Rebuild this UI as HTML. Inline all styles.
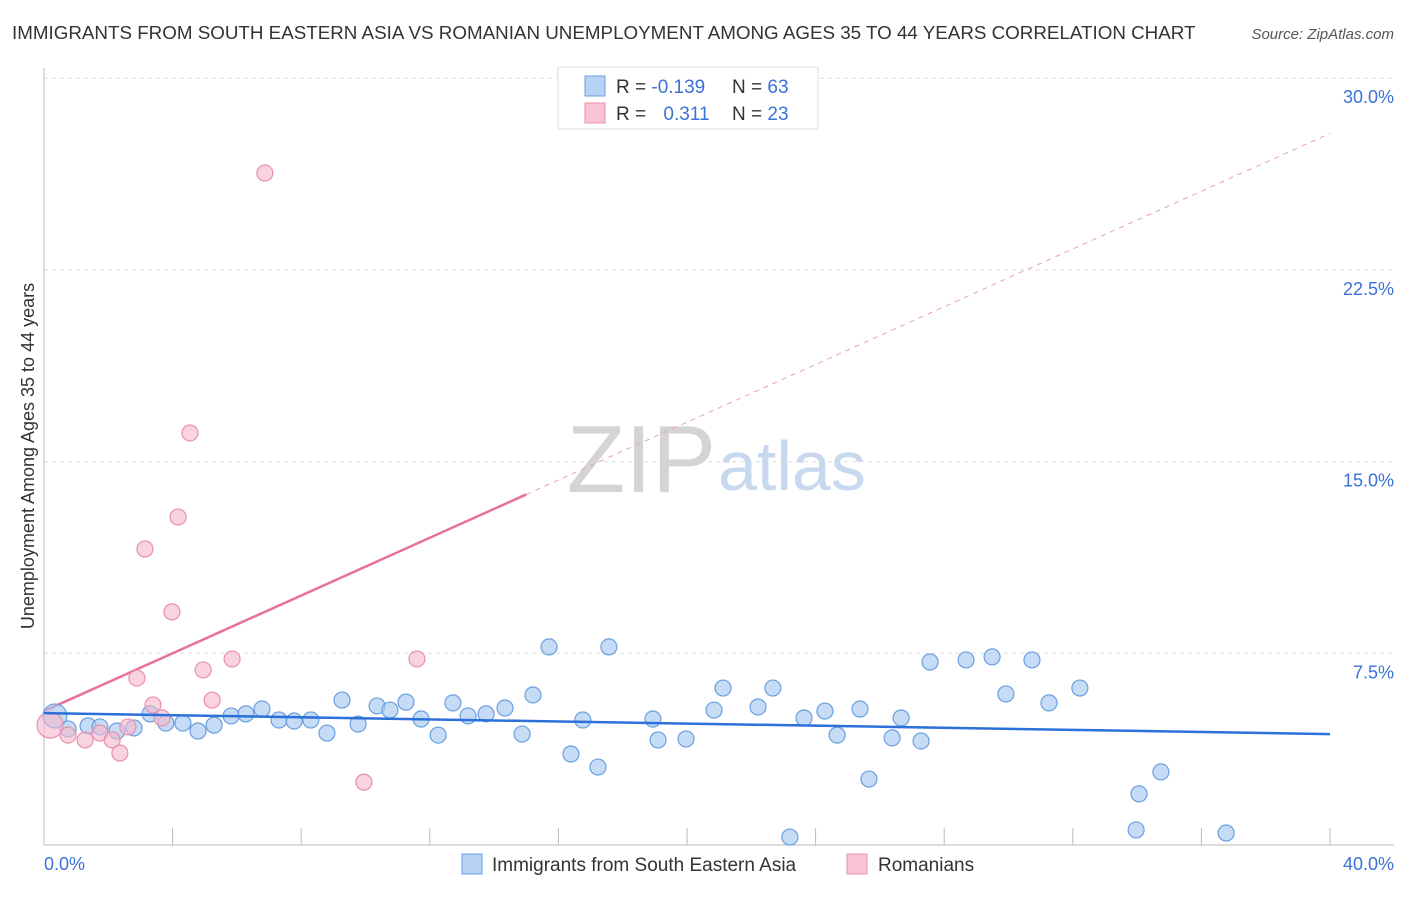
<!DOCTYPE html>
<html><head><meta charset="utf-8">
<style>
body{margin:0;background:#fff;font-family:"Liberation Sans",sans-serif;}
svg text{font-family:"Liberation Sans",sans-serif;}
</style></head>
<body>
<svg width="1406" height="892" xmlns="http://www.w3.org/2000/svg">
<text x="12" y="39" font-size="18.8" fill="#333">IMMIGRANTS FROM SOUTH EASTERN ASIA VS ROMANIAN UNEMPLOYMENT AMONG AGES 35 TO 44 YEARS CORRELATION CHART</text>
<text x="1394" y="39" font-size="15" fill="#555" font-style="italic" text-anchor="end">Source: ZipAtlas.com</text>
<g id="grid"></g>
<text x="716" y="492" font-size="96" fill="#d4d4d4" text-anchor="end" font-family="Liberation Serif">ZIP</text>
<text x="718" y="490" font-size="70" fill="#c8d8ee">atlas</text>
<g id="marks"></g>
<text transform="translate(34,456) rotate(-90)" font-size="18" fill="#333" text-anchor="middle">Unemployment Among Ages 35 to 44 years</text>
<text x="44" y="870" font-size="18" fill="#3a72d8">0.0%</text>
<text x="1394" y="870" font-size="18" fill="#3a72d8" text-anchor="end">40.0%</text>
<g>
<rect x="558" y="67" width="260" height="62" fill="#fff" stroke="#ddd"/>
<rect x="585" y="76" width="20" height="20" fill="#b8d2f5" stroke="#6a9fe0"/>
<rect x="585" y="103" width="20" height="20" fill="#f8c4d4" stroke="#e890aa"/>
<text x="616" y="93" font-size="19" fill="#333">R = <tspan fill="#3a72d8">-0.139</tspan></text>
<text x="732" y="93" font-size="19" fill="#333">N = <tspan fill="#3a72d8">63</tspan></text>
<text x="616" y="120" font-size="19" fill="#333">R = <tspan fill="#3a72d8" dx="12">0.311</tspan></text>
<text x="732" y="120" font-size="19" fill="#333">N = <tspan fill="#3a72d8">23</tspan></text>
</g>
<g>
<rect x="462" y="854" width="20" height="20" fill="#b8d2f5" stroke="#6a9fe0"/>
<text x="492" y="871" font-size="19" fill="#333">Immigrants from South Eastern Asia</text>
<rect x="847" y="854" width="20" height="20" fill="#f8c4d4" stroke="#e890aa"/>
<text x="878" y="871" font-size="19" fill="#333">Romanians</text>
</g>
</svg>
<script>
const yTicks=[7.5,15,22.5,30];
const yTickLabels=["7.5%","15.0%","22.5%","30.0%"];
const xTicks=[0,4,8,12,16,20,24,28,32,36,40];
const blueX=[0.34,0.75,1.37,1.74,2.27,2.80,3.30,3.79,4.32,4.79,5.29,5.82,6.28,6.78,7.31,7.78,8.30,8.80,9.27,9.77,10.36,10.76,11.26,11.73,12.26,12.72,13.19,13.75,14.34,14.87,15.21,15.71,16.39,16.76,17.23,17.57,18.94,19.10,19.97,20.84,21.12,22.21,22.67,23.20,23.64,24.29,24.67,25.38,25.66,26.38,26.66,27.28,27.56,28.68,29.49,29.92,30.73,31.26,32.22,33.97,34.06,34.74,36.77];
const blueY=[5.05,4.54,4.66,4.62,4.46,4.58,5.13,4.77,4.77,4.46,4.69,5.05,5.13,5.32,4.89,4.85,4.89,4.38,5.67,4.73,5.44,5.28,5.59,4.93,4.30,5.56,5.05,5.13,5.36,4.34,5.87,7.75,3.56,4.89,3.05,7.75,4.93,4.11,4.15,5.28,6.14,5.40,6.14,0.31,4.97,5.24,4.30,5.32,2.58,4.19,4.97,4.07,7.16,7.24,7.36,5.91,7.24,5.56,6.14,0.59,2.00,2.86,0.47];
const pinkX=[0.19,0.75,1.28,1.74,2.12,2.36,2.61,2.89,3.14,3.39,3.67,3.98,4.17,4.54,4.95,5.23,5.85,6.87,9.95,11.60];
const pinkY=[4.69,4.30,4.11,4.38,4.11,3.60,4.62,6.53,11.58,5.48,4.97,9.12,12.83,16.12,6.85,5.67,7.28,26.29,2.46,7.28];
const blueTrend=[5.16,4.34];
const pinkTrend=[5.24,0.565];
const NS="http://www.w3.org/2000/svg";
const X=v=>44+v*32.15, Y=v=>845-v*25.56;
function mk(t,a,p){const e=document.createElementNS(NS,t);for(const k in a)e.setAttribute(k,a[k]);(p||document.getElementById('marks')).appendChild(e);return e;}
const g=document.getElementById('grid');
yTicks.forEach((t,i)=>{
 let l=mk('line',{x1:44,x2:1394,y1:Y(t),y2:Y(t),stroke:'#ddd','stroke-dasharray':'4,4'},g);
 
 
 let tx=mk('text',{x:1394,y:Y(t)+25,'font-size':18,fill:'#3a72d8','text-anchor':'end'},g);
 tx.textContent=yTickLabels[i];
 
 
});
let ax=mk('line',{x1:44,x2:44,y1:68,y2:845,stroke:'#bbb'},g);


let bx=mk('line',{x1:44,x2:1394,y1:845,y2:845,stroke:'#bbb'},g);


xTicks.forEach(t=>{
 let l=mk('line',{x1:X(t),x2:X(t),y1:828,y2:845,stroke:'#bbb'},g);
 
 
});
let pe=15;
let pl=mk('line',{x1:X(0),y1:Y(pinkTrend[0]),x2:X(pe),y2:Y(pinkTrend[0]+pinkTrend[1]*pe),stroke:'#e8709a','stroke-width':2.5});


let pd=mk('line',{x1:X(pe),y1:Y(pinkTrend[0]+pinkTrend[1]*pe),x2:X(40),y2:Y(pinkTrend[0]+pinkTrend[1]*40),stroke:'#e8a0b8','stroke-width':1,'stroke-dasharray':'5,5'});


blueX.forEach((x,i)=>{
 let c=mk('circle',{cx:X(x),cy:Y(blueY[i]),r:i==0?12:8,fill:'rgba(168,200,240,0.65)',stroke:'#6a9fe0','stroke-width':1.2});
 
 
});
pinkX.forEach((x,i)=>{
 let c=mk('circle',{cx:X(x),cy:Y(pinkY[i]),r:i==0?13:8,fill:'rgba(245,184,203,0.6)',stroke:'#e890aa','stroke-width':1.2});
 
 
});
let bl=mk('line',{x1:X(0),y1:Y(blueTrend[0]),x2:X(40),y2:Y(blueTrend[1]),stroke:'#2a70d8','stroke-width':2.5});


</script>
</body></html>
